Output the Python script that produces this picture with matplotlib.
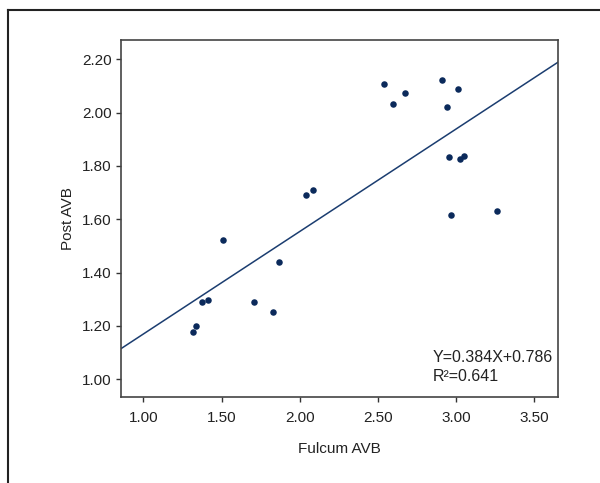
import matplotlib.pyplot as plt
import numpy as np
from matplotlib.lines import Line2D

# values
fulcum = [1.320, 1.339, 1.377, 1.416, 1.510, 1.710, 1.829, 1.870, 2.038, 2.087,
          2.537, 2.595, 2.673, 2.908, 2.940, 2.953, 2.967, 3.014, 3.025, 3.051, 3.260]
post = [1.179, 1.199, 1.290, 1.297, 1.522, 1.290, 1.254, 1.441, 1.692, 1.710,
        2.106, 2.031, 2.073, 2.122, 2.019, 1.835, 1.616, 2.088, 1.827, 1.836, 1.632]
slope = 0.384
intercept = 0.786
r2 = 0.641
xticks = [1.0, 1.5, 2.0, 2.5, 3.0, 3.5]
yticks = [1.0, 1.2, 1.4, 1.6, 1.8, 2.0, 2.2]

plt.rcParams['font.family'] = ['Liberation Sans', 'DejaVu Sans']

fig = plt.figure(figsize=(6, 4.83), dpi=100)
ax = fig.add_axes([0.2012, 0.1787, 0.7293, 0.7385])

# outer frame (only left and top edges show)
fig.add_artist(Line2D([0.0133, 0.0133], [0, 0.98], transform=fig.transFigure,
                      color='#222222', lw=1.5))
fig.add_artist(Line2D([0.0133, 1.0], [0.98, 0.98], transform=fig.transFigure,
                      color='#222222', lw=1.5))

xlim = (0.855, 3.655)
ax.set_xlim(xlim)
ax.set_ylim(0.935, 2.272)

# fit line
xs = np.array(xlim)
ax.plot(xs, slope * xs + intercept, color='#1b3d70', lw=1.1)

ax.scatter(fulcum, post, s=22, color='#0b2a5b', zorder=3, linewidths=0)

ax.set_xticks(xticks)
ax.set_xticklabels(['%.2f' % v for v in xticks])
ax.set_yticks(yticks)
ax.set_yticklabels(['%.2f' % v for v in yticks])
ax.tick_params(labelsize=11, length=3.5, width=1, color='#333333', pad=3,
               labelcolor='#222222')
ax.tick_params(axis='x', pad=7)

for sp in ax.spines.values():
    sp.set_color('#444444')
    sp.set_linewidth(1.2)

ax.set_xlabel('Fulcum AVB', fontsize=11, color='#222222', labelpad=12)
ax.set_ylabel('Post AVB', fontsize=11, color='#222222', labelpad=5)

ax.text(2.850, 1.066, 'Y=%.3fX+%.3f' % (slope, intercept), fontsize=11.5,
        color='#222222', va='baseline')
ax.text(2.850, 0.995, 'R\u00b2=%.3f' % r2, fontsize=11.5, color='#222222',
        va='baseline')

plt.savefig('out.png', dpi=100)
